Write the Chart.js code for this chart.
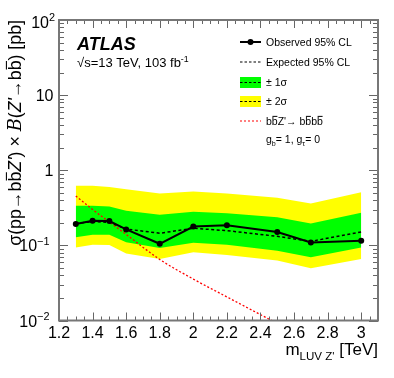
<!DOCTYPE html>
<html>
<head>
<meta charset="utf-8">
<script src="https://cdn.jsdelivr.net/npm/chart.js@4.4.1/dist/chart.umd.min.js"></script>
<style>
html, body { margin: 0; padding: 0; background: #fff; }
#wrap { width: 394px; height: 378px; }
</style>
</head>
<body>
<div id="wrap"><canvas id="limitChart" width="394" height="378"></canvas></div>
<script>
// Z' mass points [TeV] and limits [pb]
const massTeV      = [1.3, 1.4, 1.5, 1.6, 1.8, 2.0, 2.2, 2.5, 2.7, 3.0];
const observedLim  = [0.193, 0.213, 0.211, 0.163, 0.105, 0.178, 0.185, 0.151, 0.109, 0.115];
const expectedLim  = [0.195, 0.207, 0.203, 0.165, 0.145, 0.169, 0.157, 0.132, 0.113, 0.151];
const sigma1Up     = [0.337, 0.337, 0.330, 0.290, 0.256, 0.281, 0.267, 0.236, 0.196, 0.272];
const sigma1Down   = [0.128, 0.139, 0.138, 0.110, 0.0925, 0.108, 0.102, 0.085, 0.0694, 0.094];
const sigma2Up     = [0.62, 0.62, 0.60, 0.56, 0.49, 0.52, 0.49, 0.43, 0.36, 0.51];
const sigma2Down   = [0.094, 0.102, 0.101, 0.078, 0.066, 0.081, 0.0747, 0.0627, 0.0496, 0.066];
const theoryXsec   = [0.455, 0.30, 0.205, 0.14, 0.065, 0.0356, 0.0206, 0.0091, 0.0052, 0.0023];

const xTickValues = [1.2, 1.4, 1.6, 1.8, 2.0, 2.2, 2.4, 2.6, 2.8, 3.0];
const xTickLabels = ['1.2', '1.4', '1.6', '1.8', '2', '2.2', '2.4', '2.6', '2.8', '3'];
const yTickValues = [0.01, 0.1, 1, 10, 100];
const yTickBase   = ['10', '10', '1', '10', '10'];
const yTickExp    = ['\u22122', '\u22121', '', '', '2'];

const FONT = '"Liberation Sans", Arial, Helvetica, sans-serif';

function pts(ys) {
  return massTeV.map((m, i) => ({ x: m, y: ys[i] }));
}

function measureRich(ctx, parts, size) {
  let w = 0;
  parts.forEach(p => {
    p._s = (p.sub || p.sup) ? size * 0.68 : size;
    ctx.font = (p.style || '') + ' ' + p._s + 'px ' + (p.family || FONT);
    p._w = ctx.measureText(p.t).width;
    w += p._w;
  });
  return w;
}

function drawRich(ctx, parts, x, y, size, align) {
  const w = measureRich(ctx, parts, size);
  let cx = align === 'right' ? x - w : (align === 'center' ? x - w / 2 : x);
  ctx.textAlign = 'left';
  ctx.textBaseline = 'alphabetic';
  parts.forEach(p => {
    ctx.font = (p.style || '') + ' ' + p._s + 'px ' + (p.family || FONT);
    const dy = p.sub ? size * 0.28 : (p.sup ? -size * 0.42 : 0);
    ctx.fillText(p.t, cx, y + dy);
    if (p.bar) {
      const by = y + dy - p._s * 0.82;
      ctx.save();
      ctx.lineWidth = Math.max(1, size * 0.06);
      ctx.beginPath();
      ctx.moveTo(cx + p._w * 0.1, by);
      ctx.lineTo(cx + p._w * 0.95, by);
      ctx.stroke();
      ctx.restore();
    }
    cx += p._w;
  });
}

const overlay = {
  id: 'rootStyle',
  afterDraw(chart) {
    const ctx = chart.ctx;
    const a = chart.chartArea;
    const xs = chart.scales.x, ys = chart.scales.y;
    ctx.save();
    ctx.fillStyle = '#000';
    ctx.strokeStyle = '#000';

    // ticks
    ctx.strokeStyle = '#666';
    ctx.lineWidth = 1;
    ctx.beginPath();
    for (let v = 1.2; v <= 3.1001; v += 0.05) {
      const px = Math.round(xs.getPixelForValue(v)) + 0.5;
      const major = Math.abs(Math.round(v * 5) - v * 5) < 0.001;
      const len = major ? 8 : 4;
      ctx.moveTo(px, a.bottom); ctx.lineTo(px, a.bottom - len);
      ctx.moveTo(px, a.top); ctx.lineTo(px, a.top + len);
    }
    for (let d = -2; d <= 1; d++) {
      for (let k = 1; k <= 10; k++) {
        const v = k * Math.pow(10, d);
        const py = Math.round(ys.getPixelForValue(v)) + 0.5;
        const len = (k === 1 || k === 10) ? 9 : 5;
        ctx.moveTo(a.left, py); ctx.lineTo(a.left + len, py);
        ctx.moveTo(a.right, py); ctx.lineTo(a.right - len, py);
      }
    }
    ctx.stroke();

    // frame
    ctx.strokeStyle = '#777';
    ctx.lineWidth = 2;
    ctx.strokeRect(a.left, a.top, a.right - a.left, a.bottom - a.top);

    // x tick labels
    ctx.fillStyle = '#000';
    ctx.strokeStyle = '#000';
    ctx.font = '16px ' + FONT;
    ctx.textAlign = 'center';
    ctx.textBaseline = 'alphabetic';
    xTickValues.forEach((v, i) => {
      ctx.fillText(xTickLabels[i], xs.getPixelForValue(v), 338);
    });

    // y tick labels
    yTickValues.forEach((v, i) => {
      const py = ys.getPixelForValue(v);
      const parts = [{ t: yTickBase[i] }];
      if (yTickExp[i]) parts.push({ t: yTickExp[i], sup: true });
      const right = yTickExp[i] ? (yTickExp[i] === '2' ? 55 : 49.5) : 53.5;
      const base = i === 4 ? py + 8 : py + 6;
      drawRich(ctx, parts, right, base, 16, 'right');
    });

    // x title
    drawRich(ctx, [{ t: 'm' }, { t: "LUV Z'", sub: true }, { t: ' [TeV]' }], 378, 355, 17, 'right');

    // y title (rotated)
    const ital = 'italic';
    const yTitle = [
      { t: '\u03c3(pp' }, { t: '\u2192' }, { t: 'b' }, { t: 'b', bar: true },
      { t: "Z'", style: ital }, { t: ') \u00d7 ' },
      { t: 'B', style: ital, family: '"DejaVu Serif", "Liberation Serif", serif' },
      { t: '(' }, { t: "Z'", style: ital }, { t: '\u2192' }, { t: 'b' }, { t: 'b', bar: true },
      { t: ') [pb]' }
    ];
    let tsize = 16;
    const tw = measureRich(ctx, yTitle, tsize);
    tsize = 16 * 226 / tw;
    ctx.save();
    ctx.translate(21, 20);
    ctx.rotate(-Math.PI / 2);
    drawRich(ctx, yTitle, 0, 0, tsize, 'right');
    ctx.restore();

    // ATLAS label
    ctx.font = 'italic bold 18px ' + FONT;
    ctx.textAlign = 'left';
    ctx.fillText('ATLAS', 77, 50);
    drawRich(ctx, [{ t: '\u221as=13 TeV, 103 fb' }, { t: '-1', sup: true }], 77, 67, 13, 'left');

    // legend
    const lx0 = 240, lx1 = 261, tx = 266, fs = 10.5;
    // observed
    ctx.strokeStyle = '#000';
    ctx.lineWidth = 2;
    ctx.setLineDash([]);
    ctx.beginPath(); ctx.moveTo(lx0, 42); ctx.lineTo(lx1, 42); ctx.stroke();
    ctx.beginPath(); ctx.arc((lx0 + lx1) / 2, 42, 3, 0, Math.PI * 2); ctx.fill();
    drawRich(ctx, [{ t: 'Observed 95% CL' }], tx, 46, fs, 'left');
    // expected
    ctx.lineWidth = 1.2;
    ctx.setLineDash([2.5, 2]);
    ctx.beginPath(); ctx.moveTo(lx0, 62); ctx.lineTo(lx1, 62); ctx.stroke();
    ctx.setLineDash([]);
    drawRich(ctx, [{ t: 'Expected 95% CL' }], tx, 66, fs, 'left');
    // bands
    ctx.fillStyle = '#00ff00';
    ctx.fillRect(lx0, 77, lx1 - lx0, 11);
    ctx.fillStyle = '#ffff00';
    ctx.fillRect(lx0, 96, lx1 - lx0, 11);
    ctx.setLineDash([2.5, 2]);
    ctx.beginPath();
    ctx.moveTo(lx0, 82.5); ctx.lineTo(lx1, 82.5);
    ctx.moveTo(lx0, 101.5); ctx.lineTo(lx1, 101.5);
    ctx.stroke();
    ctx.fillStyle = '#000';
    ctx.setLineDash([]);
    drawRich(ctx, [{ t: '\u00b1 1\u03c3' }], tx, 86, fs, 'left');
    drawRich(ctx, [{ t: '\u00b1 2\u03c3' }], tx, 105, fs, 'left');
    // theory
    ctx.strokeStyle = '#ff0000';
    ctx.lineWidth = 1.2;
    ctx.setLineDash([2, 2]);
    ctx.beginPath(); ctx.moveTo(lx0, 121); ctx.lineTo(lx1, 121); ctx.stroke();
    ctx.setLineDash([]);
    ctx.strokeStyle = '#000';
    drawRich(ctx, [
      { t: 'b' }, { t: 'b', bar: true }, { t: "Z'\u2192 b" }, { t: 'b', bar: true },
      { t: 'b' }, { t: 'b', bar: true }
    ], tx, 125, fs, 'left');
    drawRich(ctx, [
      { t: 'g' }, { t: 'b', sub: true }, { t: '= 1, g' }, { t: '\u03c4', sub: true }, { t: '= 0' }
    ], tx, 143, fs, 'left');

    ctx.restore();
  }
};

new Chart(document.getElementById('limitChart'), {
  type: 'line',
  data: {
    datasets: [
      { data: pts(sigma2Up), fill: 1, backgroundColor: '#ffff00', borderWidth: 0,
        borderColor: 'rgba(0,0,0,0)', pointRadius: 0, order: 10 },
      { data: pts(sigma2Down), fill: false, borderWidth: 0,
        borderColor: 'rgba(0,0,0,0)', pointRadius: 0, order: 10 },
      { data: pts(sigma1Up), fill: 3, backgroundColor: '#00ff00', borderWidth: 0,
        borderColor: 'rgba(0,0,0,0)', pointRadius: 0, order: 9 },
      { data: pts(sigma1Down), fill: false, borderWidth: 0,
        borderColor: 'rgba(0,0,0,0)', pointRadius: 0, order: 9 },
      { data: pts(theoryXsec), borderColor: '#ff0000',
        borderWidth: 1.3, borderDash: [2, 2], pointRadius: 0, fill: false,
        cubicInterpolationMode: 'monotone', order: 3 },
      { data: pts(expectedLim), borderColor: '#000', borderWidth: 1.5, borderDash: [3, 2.5],
        pointRadius: 0, fill: false, order: 2 },
      { data: pts(observedLim), borderColor: '#000', borderWidth: 2, pointRadius: 3,
        pointBackgroundColor: '#000', pointBorderWidth: 0, fill: false, order: 1 }
    ]
  },
  options: {
    responsive: false,
    animation: false,
    devicePixelRatio: 1,
    layout: { padding: { left: 59, right: 16, top: 20, bottom: 57.5 } },
    plugins: { legend: { display: false }, tooltip: { enabled: false } },
    scales: {
      x: { type: 'linear', min: 1.2, max: 3.1, display: false },
      y: { type: 'logarithmic', min: 0.01, max: 100, display: false }
    }
  },
  plugins: [overlay]
});
</script>
</body>
</html>
